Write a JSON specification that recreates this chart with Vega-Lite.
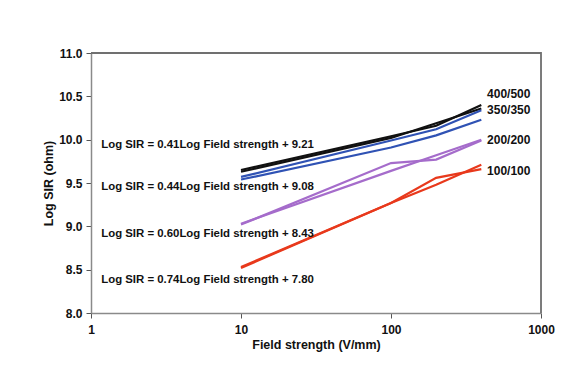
{
  "$schema": "https://vega.github.io/schema/vega-lite/v6.json",
  "width": 450,
  "height": 260,
  "autosize": {"type": "none"},
  "padding": {"left": 91, "top": 53, "right": 41, "bottom": 70},
  "background": "white",
  "config": {
    "font": "Liberation Sans",
    "axis": {
      "labelFont": "Liberation Sans", "labelFontWeight": "bold", "labelFontSize": 12, "labelColor": "#111",
      "titleFont": "Liberation Sans", "titleFontWeight": "bold", "titleFontSize": 12.5, "titleColor": "#111",
      "domainColor": "#8a8a8a", "domainWidth": 1.5, "tickColor": "#555", "tickWidth": 1, "grid": false,
      "labelFlush": false
    }
  },
  "datasets": {
    "lines": [
      {"series": "400/500", "run": "a", "field": 10, "sir": 9.65},
      {"series": "400/500", "run": "a", "field": 100, "sir": 10.04},
      {"series": "400/500", "run": "a", "field": 200, "sir": 10.16},
      {"series": "400/500", "run": "a", "field": 400, "sir": 10.40},
      {"series": "400/500", "run": "b", "field": 10, "sir": 9.63},
      {"series": "400/500", "run": "b", "field": 100, "sir": 10.02},
      {"series": "400/500", "run": "b", "field": 200, "sir": 10.19},
      {"series": "400/500", "run": "b", "field": 400, "sir": 10.36},
      {"series": "350/350", "run": "a", "field": 10, "sir": 9.57},
      {"series": "350/350", "run": "a", "field": 100, "sir": 9.99},
      {"series": "350/350", "run": "a", "field": 200, "sir": 10.12},
      {"series": "350/350", "run": "a", "field": 400, "sir": 10.34},
      {"series": "350/350", "run": "b", "field": 10, "sir": 9.54},
      {"series": "350/350", "run": "b", "field": 100, "sir": 9.91},
      {"series": "350/350", "run": "b", "field": 200, "sir": 10.05},
      {"series": "350/350", "run": "b", "field": 400, "sir": 10.23},
      {"series": "200/200", "run": "a", "field": 10, "sir": 9.02},
      {"series": "200/200", "run": "a", "field": 100, "sir": 9.73},
      {"series": "200/200", "run": "a", "field": 200, "sir": 9.77},
      {"series": "200/200", "run": "a", "field": 400, "sir": 9.99},
      {"series": "200/200", "run": "b", "field": 10, "sir": 9.03},
      {"series": "200/200", "run": "b", "field": 100, "sir": 9.64},
      {"series": "200/200", "run": "b", "field": 200, "sir": 9.82},
      {"series": "200/200", "run": "b", "field": 400, "sir": 10.00},
      {"series": "100/100", "run": "a", "field": 10, "sir": 8.52},
      {"series": "100/100", "run": "a", "field": 100, "sir": 9.27},
      {"series": "100/100", "run": "a", "field": 200, "sir": 9.56},
      {"series": "100/100", "run": "a", "field": 400, "sir": 9.66},
      {"series": "100/100", "run": "b", "field": 10, "sir": 8.53},
      {"series": "100/100", "run": "b", "field": 100, "sir": 9.27},
      {"series": "100/100", "run": "b", "field": 200, "sir": 9.48},
      {"series": "100/100", "run": "b", "field": 400, "sir": 9.71}
    ],
    "labels": [
      {"series": "400/500", "field": 437, "sir": 10.53},
      {"series": "350/350", "field": 437, "sir": 10.34},
      {"series": "200/200", "field": 437, "sir": 10.0},
      {"series": "100/100", "field": 437, "sir": 9.64}
    ],
    "equations": [
      {"text": "Log SIR = 0.41Log Field strength + 9.21", "field": 1.17, "sir": 9.94},
      {"text": "Log SIR = 0.44Log Field strength + 9.08", "field": 1.17, "sir": 9.455},
      {"text": "Log SIR = 0.60Log Field strength + 8.43", "field": 1.17, "sir": 8.91},
      {"text": "Log SIR = 0.74Log Field strength + 7.80", "field": 1.17, "sir": 8.38}
    ],
    "frame": [
      {"field": 1, "sir": 11, "step": 1},
      {"field": 1000, "sir": 11, "step": 2},
      {"field": 1000, "sir": 8, "step": 3}
    ]
  },
  "layer": [
    {
      "data": {"name": "frame"},
      "mark": {"type": "line", "color": "#707070", "strokeWidth": 1.8},
      "encoding": {
        "x": {"field": "field", "type": "quantitative",
              "scale": {"type": "log", "domain": [1, 1000]},
              "axis": {"title": "Field strength (V/mm)", "values": [1, 10, 100, 1000], "format": "d",
                       "tickSize": 5, "labelPadding": 6, "titlePadding": 3}},
        "y": {"field": "sir", "type": "quantitative",
              "scale": {"domain": [8, 11], "zero": false},
              "axis": {"title": "Log SIR (ohm)", "values": [8, 8.5, 9, 9.5, 10, 10.5, 11], "format": ".1f",
                       "tickSize": 5, "labelPadding": 4, "titlePadding": 3}},
        "order": {"field": "step", "type": "quantitative"}
      }
    },
    {
      "data": {"name": "lines"},
      "mark": {"type": "line", "strokeWidth": 2.2},
      "encoding": {
        "x": {"field": "field", "type": "quantitative"},
        "y": {"field": "sir", "type": "quantitative"},
        "color": {"field": "series", "type": "nominal",
                  "scale": {"domain": ["400/500", "350/350", "200/200", "100/100"],
                            "range": ["#111111", "#2f52b4", "#a56ccb", "#e8391c"]},
                  "legend": null},
        "detail": {"field": "run"}
      }
    },
    {
      "data": {"name": "labels"},
      "mark": {"type": "text", "align": "left", "baseline": "middle", "fontWeight": "bold", "fontSize": 12, "color": "#111"},
      "encoding": {
        "x": {"field": "field", "type": "quantitative"},
        "y": {"field": "sir", "type": "quantitative"},
        "text": {"field": "series"}
      }
    },
    {
      "data": {"name": "equations"},
      "mark": {"type": "text", "align": "left", "baseline": "middle", "fontWeight": "bold", "fontSize": 11.4, "color": "#111"},
      "encoding": {
        "x": {"field": "field", "type": "quantitative"},
        "y": {"field": "sir", "type": "quantitative"},
        "text": {"field": "text"}
      }
    }
  ]
}
